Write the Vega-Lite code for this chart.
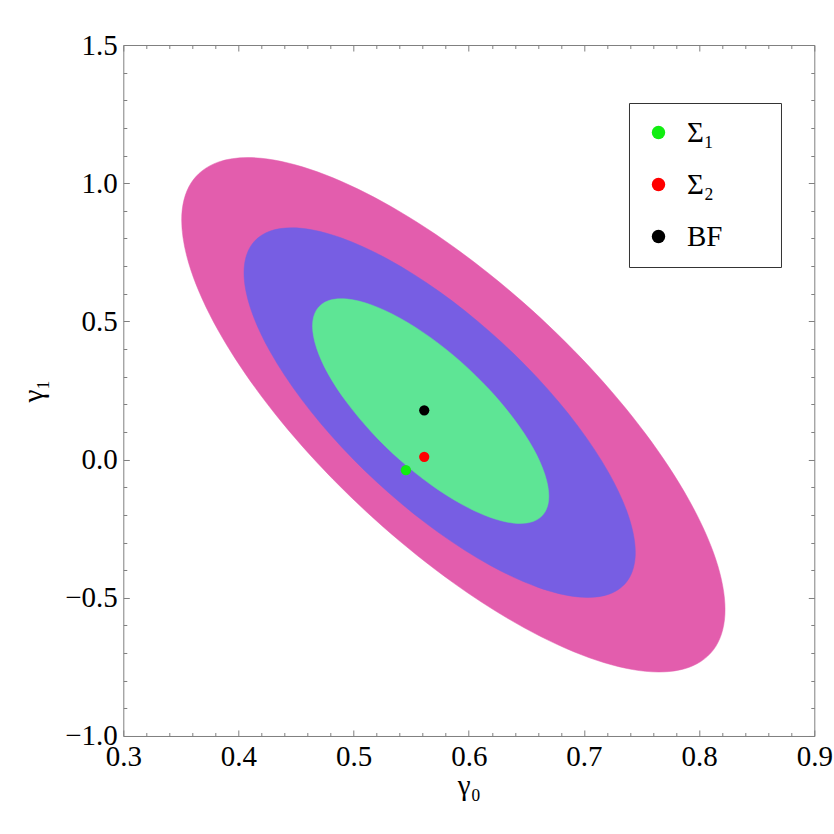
{
  "$schema": "https://vega.github.io/schema/vega-lite/v6.json",
  "width": 691,
  "height": 691,
  "autosize": {"type": "none"},
  "padding": {"left": 123.3, "top": 45, "right": 20, "bottom": 98},
  "background": "white",
  "config": {
    "font": "Liberation Serif",
    "view": {"stroke": "#7f7f7f", "strokeWidth": 1},
    "axis": {"grid": false, "labelFont": "Liberation Serif", "titleFont": "Liberation Serif"},
    "legend": {"labelFont": "Liberation Serif"}
  },
  "datasets": {
    "regions": [
      {"level": "outer", "t": 0, "g0": 0.8225, "g1": -0.5424},
      {"level": "outer", "t": 15, "g0": 0.8145, "g1": -0.6757},
      {"level": "outer", "t": 30, "g0": 0.7909, "g1": -0.7520},
      {"level": "outer", "t": 45, "g0": 0.7534, "g1": -0.7660},
      {"level": "outer", "t": 60, "g0": 0.7046, "g1": -0.7168},
      {"level": "outer", "t": 75, "g0": 0.6477, "g1": -0.6076},
      {"level": "outer", "t": 90, "g0": 0.5866, "g1": -0.4460},
      {"level": "outer", "t": 105, "g0": 0.5255, "g1": -0.2429},
      {"level": "outer", "t": 120, "g0": 0.4686, "g1": -0.0123},
      {"level": "outer", "t": 135, "g0": 0.4198, "g1": 0.2302},
      {"level": "outer", "t": 150, "g0": 0.3823, "g1": 0.4682},
      {"level": "outer", "t": 165, "g0": 0.3587, "g1": 0.6852},
      {"level": "outer", "t": 180, "g0": 0.3507, "g1": 0.8666},
      {"level": "outer", "t": 195, "g0": 0.3587, "g1": 0.9999},
      {"level": "outer", "t": 210, "g0": 0.3823, "g1": 1.0762},
      {"level": "outer", "t": 225, "g0": 0.4198, "g1": 1.0902},
      {"level": "outer", "t": 240, "g0": 0.4686, "g1": 1.0410},
      {"level": "outer", "t": 255, "g0": 0.5255, "g1": 0.9318},
      {"level": "outer", "t": 270, "g0": 0.5866, "g1": 0.7702},
      {"level": "outer", "t": 285, "g0": 0.6477, "g1": 0.5671},
      {"level": "outer", "t": 300, "g0": 0.7046, "g1": 0.3365},
      {"level": "outer", "t": 315, "g0": 0.7534, "g1": 0.0940},
      {"level": "outer", "t": 330, "g0": 0.7909, "g1": -0.1440},
      {"level": "outer", "t": 345, "g0": 0.8145, "g1": -0.3610},
      {"level": "mid", "t": 0, "g0": 0.7446, "g1": -0.3361},
      {"level": "mid", "t": 15, "g0": 0.7388, "g1": -0.4319},
      {"level": "mid", "t": 30, "g0": 0.7218, "g1": -0.4868},
      {"level": "mid", "t": 45, "g0": 0.6948, "g1": -0.4968},
      {"level": "mid", "t": 60, "g0": 0.6597, "g1": -0.4614},
      {"level": "mid", "t": 75, "g0": 0.6187, "g1": -0.3830},
      {"level": "mid", "t": 90, "g0": 0.5747, "g1": -0.2669},
      {"level": "mid", "t": 105, "g0": 0.5307, "g1": -0.1210},
      {"level": "mid", "t": 120, "g0": 0.4897, "g1": 0.0447},
      {"level": "mid", "t": 135, "g0": 0.4546, "g1": 0.2189},
      {"level": "mid", "t": 150, "g0": 0.4276, "g1": 0.3899},
      {"level": "mid", "t": 165, "g0": 0.4106, "g1": 0.5458},
      {"level": "mid", "t": 180, "g0": 0.4048, "g1": 0.6761},
      {"level": "mid", "t": 195, "g0": 0.4106, "g1": 0.7719},
      {"level": "mid", "t": 210, "g0": 0.4276, "g1": 0.8268},
      {"level": "mid", "t": 225, "g0": 0.4546, "g1": 0.8368},
      {"level": "mid", "t": 240, "g0": 0.4897, "g1": 0.8014},
      {"level": "mid", "t": 255, "g0": 0.5307, "g1": 0.7230},
      {"level": "mid", "t": 270, "g0": 0.5747, "g1": 0.6069},
      {"level": "mid", "t": 285, "g0": 0.6187, "g1": 0.4610},
      {"level": "mid", "t": 300, "g0": 0.6597, "g1": 0.2953},
      {"level": "mid", "t": 315, "g0": 0.6948, "g1": 0.1211},
      {"level": "mid", "t": 330, "g0": 0.7218, "g1": -0.0499},
      {"level": "mid", "t": 345, "g0": 0.7388, "g1": -0.2058},
      {"level": "inner", "t": 0, "g0": 0.6695, "g1": -0.1323},
      {"level": "inner", "t": 15, "g0": 0.6660, "g1": -0.1906},
      {"level": "inner", "t": 30, "g0": 0.6558, "g1": -0.2239},
      {"level": "inner", "t": 45, "g0": 0.6394, "g1": -0.2300},
      {"level": "inner", "t": 60, "g0": 0.6182, "g1": -0.2085},
      {"level": "inner", "t": 75, "g0": 0.5935, "g1": -0.1608},
      {"level": "inner", "t": 90, "g0": 0.5669, "g1": -0.0902},
      {"level": "inner", "t": 105, "g0": 0.5403, "g1": -0.0015},
      {"level": "inner", "t": 120, "g0": 0.5156, "g1": 0.0993},
      {"level": "inner", "t": 135, "g0": 0.4944, "g1": 0.2053},
      {"level": "inner", "t": 150, "g0": 0.4780, "g1": 0.3092},
      {"level": "inner", "t": 165, "g0": 0.4678, "g1": 0.4041},
      {"level": "inner", "t": 180, "g0": 0.4643, "g1": 0.4833},
      {"level": "inner", "t": 195, "g0": 0.4678, "g1": 0.5416},
      {"level": "inner", "t": 210, "g0": 0.4780, "g1": 0.5749},
      {"level": "inner", "t": 225, "g0": 0.4944, "g1": 0.5810},
      {"level": "inner", "t": 240, "g0": 0.5156, "g1": 0.5595},
      {"level": "inner", "t": 255, "g0": 0.5403, "g1": 0.5118},
      {"level": "inner", "t": 270, "g0": 0.5669, "g1": 0.4412},
      {"level": "inner", "t": 285, "g0": 0.5935, "g1": 0.3525},
      {"level": "inner", "t": 300, "g0": 0.6182, "g1": 0.2517},
      {"level": "inner", "t": 315, "g0": 0.6394, "g1": 0.1457},
      {"level": "inner", "t": 330, "g0": 0.6558, "g1": 0.0418},
      {"level": "inner", "t": 345, "g0": 0.6660, "g1": -0.0531}
    ],
    "points": [
      {"name": "Σ₁", "g0": 0.5454, "g1": -0.0385},
      {"name": "Σ₂", "g0": 0.5613, "g1": 0.0099},
      {"name": "BF", "g0": 0.5613, "g1": 0.1784}
    ]
  },
  "resolve": {"axis": {"x": "independent", "y": "independent"}},
  "layer": [
    {
      "data": {"name": "regions"},
      "transform": [{"filter": "datum.level == 'outer'"}],
      "mark": {"type": "line", "interpolate": "cardinal-closed", "fill": "#E35DAD", "stroke": "#E35DAD", "strokeWidth": 0.5},
      "encoding": {
        "x": {
          "field": "g0", "type": "quantitative",
          "scale": {"domain": [0.3, 0.9], "nice": false, "zero": false},
          "axis": {
            "orient": "bottom", "values": [0.3, 0.4, 0.5, 0.6, 0.7, 0.8, 0.9], "format": ".1f",
            "ticks": false, "domain": false, "grid": false,
            "labelFont": "Liberation Serif", "labelFontSize": 29, "labelColor": "black",
            "labelPadding": 7, "labelFlush": false, "labelOverlap": false,
            "title": "γ₀", "titleFont": "Liberation Serif", "titleFontSize": 29,
            "titleFontWeight": "normal", "titleColor": "black", "titlePadding": 0
          }
        },
        "y": {
          "field": "g1", "type": "quantitative",
          "scale": {"domain": [-1, 1.5], "nice": false, "zero": false},
          "axis": {
            "orient": "left", "values": [-1, -0.5, 0, 0.5, 1, 1.5], "format": ".1f",
            "ticks": false, "domain": false, "grid": false,
            "labelFont": "Liberation Serif", "labelFontSize": 29, "labelColor": "black",
            "labelPadding": 6, "labelFlush": false, "labelOverlap": false,
            "title": "γ₁", "titleFont": "Liberation Serif", "titleFontSize": 29,
            "titleFontWeight": "normal", "titleColor": "black", "titlePadding": 16
          }
        },
        "order": {"field": "t", "type": "quantitative"}
      }
    },
    {
      "data": {"name": "regions"},
      "transform": [{"filter": "datum.level == 'mid'"}],
      "mark": {"type": "line", "interpolate": "cardinal-closed", "fill": "#775EE3", "stroke": "#775EE3", "strokeWidth": 0.5},
      "encoding": {
        "x": {
          "field": "g0", "type": "quantitative",
          "axis": {
            "orient": "bottom",
            "values": [0.3,0.32,0.34,0.36,0.38,0.4,0.42,0.44,0.46,0.48,0.5,0.52,0.54,0.56,0.58,0.6,0.62,0.64,0.66,0.68,0.7,0.72,0.74,0.76,0.78,0.8,0.82,0.84,0.86,0.88,0.9],
            "labels": false, "domain": false, "grid": false, "title": null,
            "tickColor": "#7f7f7f", "tickWidth": 1,
            "tickSize": {"condition": {"test": "abs(datum.value*10 - round(datum.value*10)) < 0.000001", "value": -6}, "value": -3.5}
          }
        },
        "y": {
          "field": "g1", "type": "quantitative",
          "axis": {
            "orient": "left",
            "values": [-1,-0.9,-0.8,-0.7,-0.6,-0.5,-0.4,-0.3,-0.2,-0.1,0,0.1,0.2,0.3,0.4,0.5,0.6,0.7,0.8,0.9,1,1.1,1.2,1.3,1.4,1.5],
            "labels": false, "domain": false, "grid": false, "title": null,
            "tickColor": "#7f7f7f", "tickWidth": 1,
            "tickSize": {"condition": {"test": "abs(datum.value*2 - round(datum.value*2)) < 0.000001", "value": -6}, "value": -3.5}
          }
        },
        "order": {"field": "t", "type": "quantitative"}
      }
    },
    {
      "data": {"name": "regions"},
      "transform": [{"filter": "datum.level == 'inner'"}],
      "mark": {"type": "line", "interpolate": "cardinal-closed", "fill": "#5EE595", "stroke": "#5EE595", "strokeWidth": 0.5},
      "encoding": {
        "x": {
          "field": "g0", "type": "quantitative",
          "axis": {
            "orient": "top",
            "values": [0.3,0.32,0.34,0.36,0.38,0.4,0.42,0.44,0.46,0.48,0.5,0.52,0.54,0.56,0.58,0.6,0.62,0.64,0.66,0.68,0.7,0.72,0.74,0.76,0.78,0.8,0.82,0.84,0.86,0.88,0.9],
            "labels": false, "domain": false, "grid": false, "title": null,
            "tickColor": "#7f7f7f", "tickWidth": 1,
            "tickSize": {"condition": {"test": "abs(datum.value*10 - round(datum.value*10)) < 0.000001", "value": -6}, "value": -3.5}
          }
        },
        "y": {
          "field": "g1", "type": "quantitative",
          "axis": {
            "orient": "right",
            "values": [-1,-0.9,-0.8,-0.7,-0.6,-0.5,-0.4,-0.3,-0.2,-0.1,0,0.1,0.2,0.3,0.4,0.5,0.6,0.7,0.8,0.9,1,1.1,1.2,1.3,1.4,1.5],
            "labels": false, "domain": false, "grid": false, "title": null,
            "tickColor": "#7f7f7f", "tickWidth": 1,
            "tickSize": {"condition": {"test": "abs(datum.value*2 - round(datum.value*2)) < 0.000001", "value": -6}, "value": -3.5}
          }
        },
        "order": {"field": "t", "type": "quantitative"}
      }
    },
    {
      "data": {"name": "points"},
      "mark": {"type": "point", "filled": true, "size": 105, "opacity": 1},
      "encoding": {
        "x": {"field": "g0", "type": "quantitative", "axis": null},
        "y": {"field": "g1", "type": "quantitative", "axis": null},
        "color": {
          "field": "name", "type": "nominal",
          "scale": {"domain": ["Σ₁", "Σ₂", "BF"], "range": ["#11ee11", "#ff0000", "#000000"]},
          "legend": {
            "orient": "none", "legendX": 505.7, "legendY": 58,
            "title": null, "padding": 15, "strokeColor": "#333333", "fillColor": "white",
            "symbolType": "circle", "symbolSize": 180, "symbolStrokeWidth": 0, "symbolOpacity": 1,
            "symbolOffset": 0,
            "labelFont": "Liberation Serif", "labelFontSize": 29, "labelColor": "black",
            "labelOffset": 14, "rowPadding": 22, "labelLimit": 400,
            "labelExpr": "datum.label + '\u00a0\u00a0\u00a0\u00a0\u00a0\u00a0\u200b'"
          }
        }
      }
    }
  ]
}
